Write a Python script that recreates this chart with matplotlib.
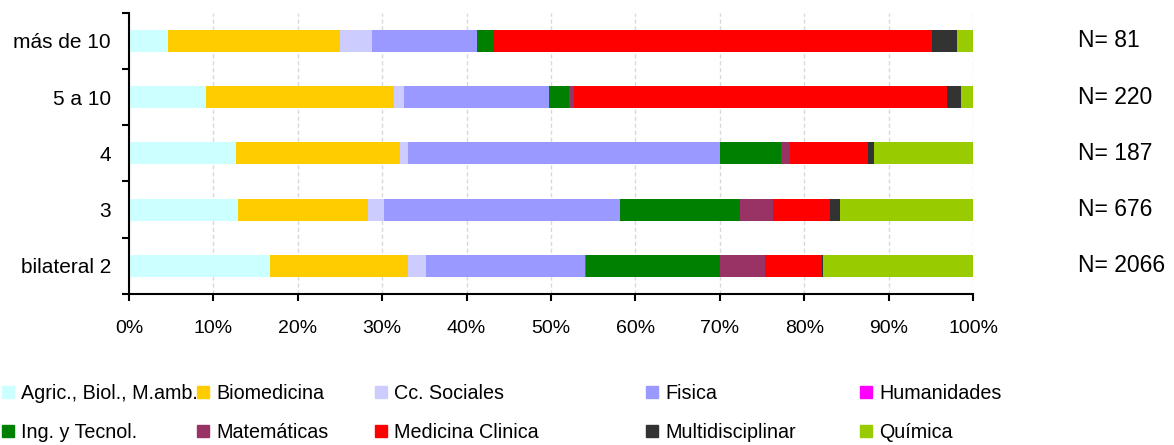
import matplotlib
matplotlib.use("Agg")
import matplotlib.pyplot as plt
import matplotlib.patches as mpatches
import numpy as np

plt.rcParams["font.family"] = ["Liberation Sans", "DejaVu Sans"]
plt.rcParams["font.size"] = 14

categories = ["más de 10", "5 a 10", "4", "3", "bilateral 2"]
n_totals = [81, 220, 187, 676, 2066]

# share (%) of each field per group
agric = [4.6, 9.1, 12.7, 12.9, 16.7]
biomedicina = [20.4, 22.3, 19.4, 15.4, 16.4]
cc_sociales = [3.8, 1.2, 1.0, 1.9, 2.1]
fisica = [12.4, 17.2, 36.9, 28.0, 18.8]
humanidades = [0.0, 0.0, 0.0, 0.0, 0.2]
ing_tecnol = [2.0, 2.3, 7.3, 14.2, 15.8]
matematicas = [0.0, 0.6, 1.0, 3.9, 5.4]
medicina = [51.9, 44.2, 9.3, 6.8, 6.7]
multidisc = [3.0, 1.7, 0.7, 1.1, 0.1]
quimica = [1.9, 1.4, 11.7, 15.8, 17.8]

series = [
    ("Agric., Biol., M.amb.", agric, "#CCFFFF"),
    ("Biomedicina", biomedicina, "#FFCC00"),
    ("Cc. Sociales", cc_sociales, "#CCCCFF"),
    ("Fisica", fisica, "#9999FF"),
    ("Humanidades", humanidades, "#FF00FF"),
    ("Ing. y Tecnol.", ing_tecnol, "#008000"),
    ("Matemáticas", matematicas, "#993366"),
    ("Medicina Clinica", medicina, "#FF0000"),
    ("Multidisciplinar", multidisc, "#333333"),
    ("Química", quimica, "#99CC00"),
]


def main():
    fig = plt.figure(figsize=(11.74, 4.45), dpi=100)
    ax = fig.add_axes([129 / 1174, 1 - 294 / 445, 844 / 1174, 281.3 / 445])

    pos = np.arange(len(categories))
    totals = np.sum([np.array(v) for _, v, _ in series], axis=0)
    left = np.zeros(len(categories))
    for name, vals, color in series:
        share = np.array(vals) / totals
        ax.barh(pos, share, left=left, height=0.39, color=color,
                label=name, zorder=2)
        left += share

    ax.set_xlim(0, 1)
    ax.set_ylim(len(categories) - 0.5, -0.5)
    ax.set_xticks(np.linspace(0, 1, 11))
    ax.set_xticklabels([f"{int(round(t * 100))}%" for t in np.linspace(0, 1, 11)])
    ax.set_yticks(pos)
    ax.set_yticklabels(categories, fontsize=15)
    ax.set_yticks(np.arange(len(categories) + 1) - 0.5, minor=True)
    ax.tick_params(axis="y", which="major", length=0, pad=13)
    ax.tick_params(axis="y", which="minor", length=5, width=1.5, direction="out")
    ax.tick_params(axis="x", length=5, width=1.5, direction="out", pad=14)

    for s in ("top", "right"):
        ax.spines[s].set_visible(False)
    for s in ("left", "bottom"):
        ax.spines[s].set_linewidth(1.5)

    ax.grid(axis="x", color="#D9D9D9", linestyle=(0, (3, 2)), linewidth=1, zorder=0)
    ax.set_axisbelow(True)

    for p, n in zip(pos, n_totals):
        ax.text(1.124, p, f"N= {n}", transform=ax.get_yaxis_transform(),
                va="center", ha="left", fontsize=16.5, clip_on=False)

    # legend laid out as five columns of two entries each
    col_x = [2, 197, 375, 646, 860]
    fs = 14.2
    px = 1 / fs / 1.389  # one pixel in font-size units
    handles = [mpatches.Patch(color=c, label=n) for n, _, c in series]
    for i, x in enumerate(col_x):
        pair = [handles[i], handles[i + 5]]
        fig.legend(handles=pair, loc="center left",
                   bbox_to_anchor=(x / 1174, 1 - 413 / 445),
                   frameon=False, borderpad=0, borderaxespad=0,
                   handlelength=12 * px, handleheight=12 * px,
                   handletextpad=7 * px, labelspacing=20 * px,
                   fontsize=fs)

    plt.savefig("out.png", dpi=100)


if __name__ == "__main__":
    main()
